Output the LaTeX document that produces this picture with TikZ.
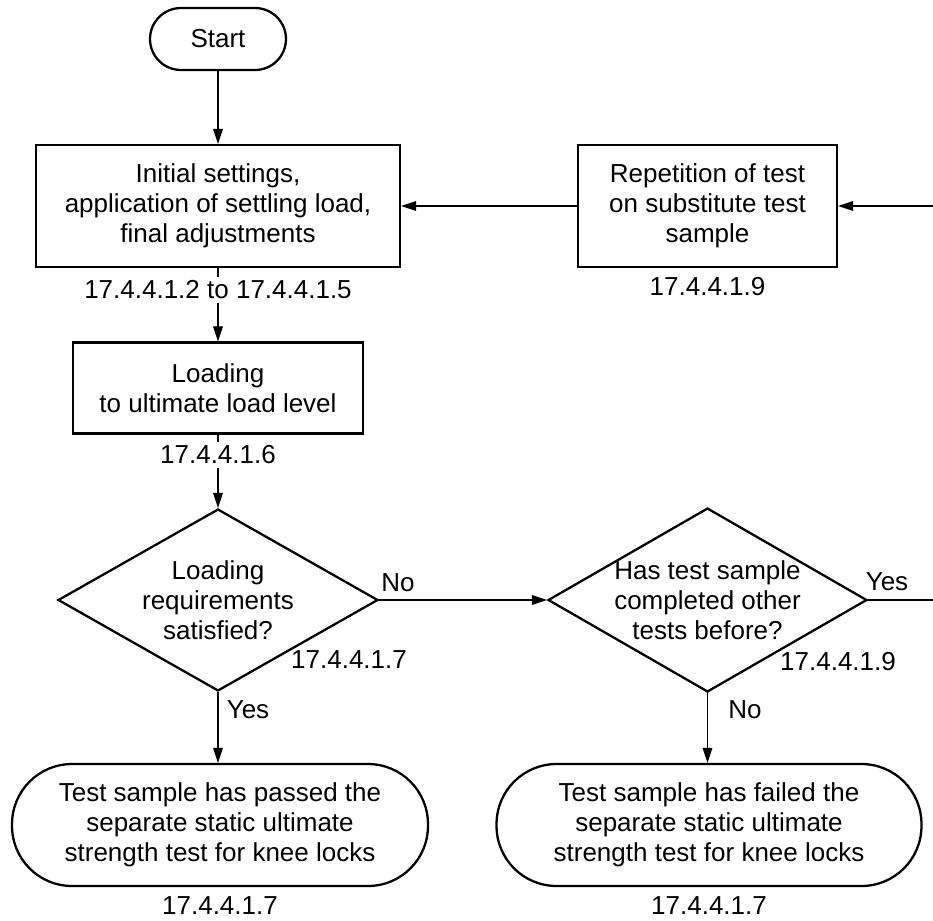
\documentclass[tikz,border=0pt]{standalone}
\usepackage{fontspec}
\setmainfont{Liberation Sans}
\usetikzlibrary{shapes.geometric,arrows.meta}

\begin{document}
\begin{tikzpicture}[x=0.02cm,y=-0.02cm,line width=0.6pt,
  font=\fontsize{14.8}{17}\selectfont,
  box/.style={draw,line width=1.3pt,align=center,inner sep=0pt},
  term/.style={box,rounded corners=#1},
  dec/.style={draw,line width=1.3pt,diamond,inner sep=0pt},
  ref/.style={inner sep=2pt},
  >={Triangle[length=8.5pt,width=5.5pt]}]
\useasboundingbox (0,0) rectangle (933,920);
% left column
\node[term=0.62cm,minimum width=2.72cm,minimum height=1.24cm] (start) at (218,39) {Start};
\node[box,minimum width=7.28cm,minimum height=2.44cm] (init) at (218,206) {Initial settings,\\application of settling load,\\final adjustments};
\node[ref] (r1) at (218,290) {17.4.4.1.2 to 17.4.4.1.5};
\node[box,minimum width=5.8cm,minimum height=1.82cm] (load) at (218,388) {Loading\\to ultimate load level};
\node[ref] (r2) at (218,455) {17.4.4.1.6};
\node[dec,minimum width=6.4cm,minimum height=3.64cm,
  label={[align=center]center:Loading\\requirements\\satisfied?}] (q1) at (218,600) {};
\node[ref] (r3) at (349,660) {17.4.4.1.7};
\node[term=1.2cm,minimum width=8.32cm,minimum height=2.44cm] (pass) at (220,825) {Test sample has passed the\\separate static ultimate\\strength test for knee locks};
\node[ref] (r6) at (220,906) {17.4.4.1.7};
% right column
\node[box,minimum width=5.18cm,minimum height=2.44cm] (rep) at (707.5,206) {Repetition of test\\on substitute test\\sample};
\node[ref] (r4) at (707.5,287) {17.4.4.1.9};
\node[dec,minimum width=6.38cm,minimum height=3.68cm,
  label={[align=center]center:Has test sample\\completed other\\tests before?}] (q2) at (707.5,600) {};
\node[ref] (r5) at (838,662) {17.4.4.1.9};
\node[term=1.2cm,minimum width=8.5cm,minimum height=2.44cm] (fail) at (709,825) {Test sample has failed the\\separate static ultimate\\strength test for knee locks};
\node[ref] (r7) at (709,906) {17.4.4.1.7};
% answers
\node (no1) at (398,583) {No};
\node (yes1) at (248,710) {Yes};
\node (yes2) at (887,582) {Yes};
\node (no2) at (745,710) {No};
\coordinate (e1) at (935,600);
\coordinate (e2) at (935,206);
% connectors
\draw[->] (start) -- (init);
\draw[->] (init) -- (r1) -- (load);
\draw[->] (load) -- (r2) -- (q1);
\draw[->] (q1) -- (q2);
\draw[->] (q1.south) -- (q1.south |- pass.north);
\draw[->] (q2.south) -- (q2.south |- fail.north);
\draw[->] (q2) -- (e1) -- (e2) -- (rep);
\draw[->] (rep) -- (init);
\end{tikzpicture}
\end{document}
